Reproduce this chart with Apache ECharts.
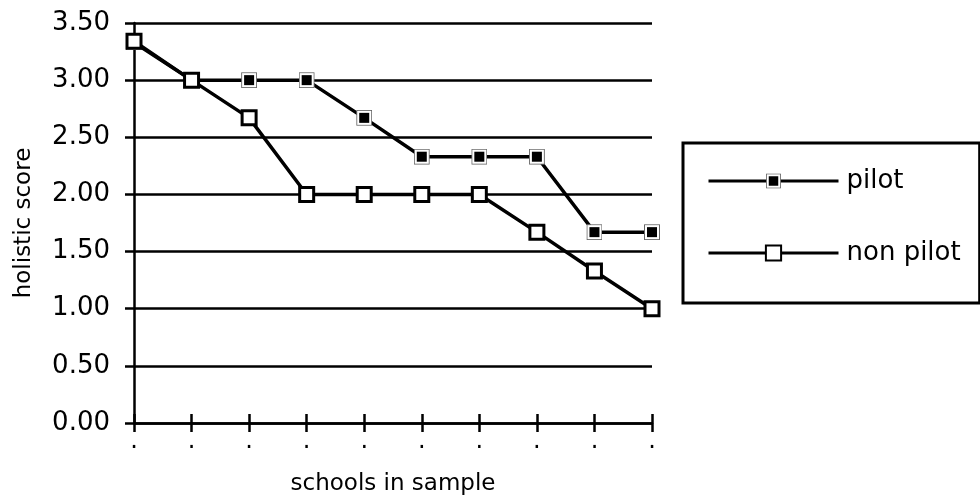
<!DOCTYPE html>
<html>
<head>
<meta charset="utf-8">
<script src="https://cdn.jsdelivr.net/npm/echarts@6/dist/echarts.min.js"></script>
<style>html,body{margin:0;padding:0;background:#fff;}#c{width:980px;height:500px;}</style>
</head>
<body>
<div id="c"></div>
<script>
var categories = ['1','2','3','4','5','6','7','8','9','10'];
var xTickLabels = ['.','.','.','.','.','.','.','.','.','.'];
var pilot = [3.33, 3.0, 3.0, 3.0, 2.67, 2.33, 2.33, 2.33, 1.67, 1.67];
var nonPilot = [3.34, 3.0, 2.67, 2.0, 2.0, 2.0, 2.0, 1.67, 1.33, 1.0];
var seriesNames = ['pilot', 'non pilot'];
var xTitle = 'schools in sample';
var yTitle = 'holistic score';

var FONT = 'DejaVu Sans';
var pilotSvg = "<svg xmlns='http://www.w3.org/2000/svg' width='16' height='16'><rect x='0.5' y='0.5' width='15' height='15' fill='white' stroke='#666' stroke-width='1'/><rect x='3' y='3' width='10' height='10' fill='black'/></svg>";
var pilotSymbol = 'image://data:image/svg+xml;charset=utf-8,' + encodeURIComponent(pilotSvg);

var chart = echarts.init(document.getElementById('c'), null, {renderer: 'canvas'});
chart.setOption({
  animation: false,
  backgroundColor: '#fff',
  grid: {left: 134, right: 328, top: 23, bottom: 77, containLabel: false, outerBoundsMode: 'none'},
  legend: {
    orient: 'vertical',
    left: 683, top: 143,
    padding: [25, 19, 37, 24],
    itemGap: 46,
    itemWidth: 130,
    itemHeight: 19,
    borderColor: '#000',
    borderWidth: 3,
    borderRadius: 0,
    lineStyle: {width: 3, color: '#000'},
    textStyle: {fontFamily: FONT, fontSize: 26, color: '#000', padding: [0, 0, 0, 3]},
    data: seriesNames
  },
  xAxis: [{
    type: 'category',
    data: categories,
    boundaryGap: false,
    name: xTitle,
    nameLocation: 'middle',
    nameGap: 50,
    nameTextStyle: {fontFamily: FONT, fontSize: 23, color: '#000'},
    axisLine: {lineStyle: {color: '#000', width: 2.5}},
    axisTick: {show: true, length: 9, lineStyle: {color: '#000', width: 2.5}, alignWithLabel: true},
    axisLabel: {fontFamily: FONT, fontSize: 24, color: '#000', margin: 7, interval: 0,
      formatter: function (v, i) { return xTickLabels[i]; }},
    splitLine: {show: false}
  }, {
    type: 'category',
    data: categories,
    boundaryGap: false,
    position: 'bottom',
    axisLine: {show: false},
    axisTick: {show: true, inside: true, length: 9, lineStyle: {color: '#000', width: 2.5}},
    axisLabel: {show: false},
    splitLine: {show: false}
  }],
  yAxis: {
    type: 'value',
    min: 0, max: 3.5, interval: 0.5,
    name: yTitle,
    nameLocation: 'middle',
    nameGap: 98,
    nameRotate: 90,
    nameTextStyle: {fontFamily: FONT, fontSize: 23, color: '#000'},
    axisLine: {show: true, lineStyle: {color: '#000', width: 2.5}},
    axisTick: {show: true, length: 9, lineStyle: {color: '#000', width: 2.5}},
    axisLabel: {fontFamily: FONT, fontSize: 26, color: '#000', margin: 24,
      formatter: function (v) { return v.toFixed(2); }},
    splitLine: {show: true, lineStyle: {color: '#000', width: 2.5}}
  },
  series: [{
    name: seriesNames[0],
    type: 'line',
    data: pilot,
    symbol: pilotSymbol,
    symbolSize: 16,
    showAllSymbol: true,
    lineStyle: {color: '#000', width: 3.5},
    itemStyle: {color: '#000'},
    z: 3
  }, {
    name: seriesNames[1],
    type: 'line',
    data: nonPilot,
    symbol: 'rect',
    symbolSize: 14,
    showAllSymbol: true,
    lineStyle: {color: '#000', width: 3.5},
    itemStyle: {color: '#fff', borderColor: '#000', borderWidth: 3},
    z: 4
  }]
});
</script>
</body>
</html>
